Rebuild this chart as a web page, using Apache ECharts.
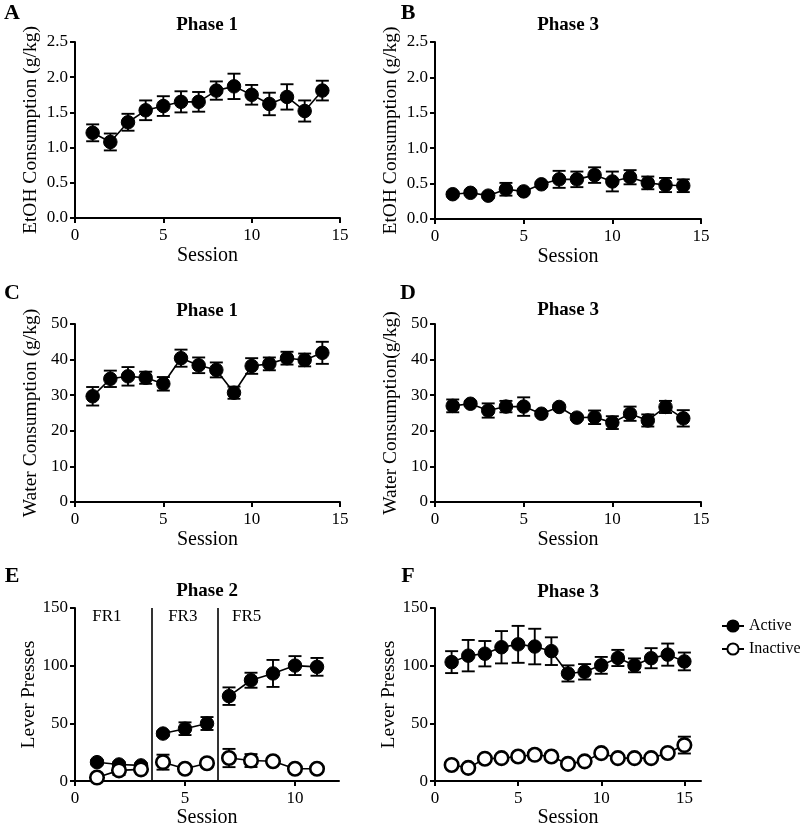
<!DOCTYPE html>
<html>
<head>
<meta charset="utf-8">
<script src="https://cdn.jsdelivr.net/npm/echarts@6/dist/echarts.min.js"></script>
<style>html,body{margin:0;padding:0;background:#fff;}#chart{width:800px;height:829px;}</style>
</head>
<body>
<div id="chart"></div>
<script>
// ---------- DATA ----------
const sessions14 = [1,2,3,4,5,6,7,8,9,10,11,12,13,14];
const sessions11 = [1,2,3,4,5,6,7,8,9,10,11];
const sessions15 = [1,2,3,4,5,6,7,8,9,10,11,12,13,14,15];

const etohP1    = [1.21,1.08,1.36,1.53,1.59,1.65,1.65,1.81,1.87,1.75,1.62,1.72,1.52,1.81];
const etohP1Err = [0.12,0.12,0.12,0.14,0.14,0.15,0.14,0.13,0.18,0.14,0.16,0.18,0.15,0.14];
const etohP3    = [0.35,0.37,0.33,0.42,0.39,0.49,0.56,0.56,0.62,0.53,0.59,0.51,0.48,0.47];
const etohP3Err = [0.03,0.03,0.03,0.09,0.03,0.03,0.12,0.11,0.11,0.14,0.10,0.09,0.10,0.09];

const waterP1    = [29.7,34.6,35.3,34.9,33.2,40.4,38.4,37.1,30.7,38.2,38.8,40.4,39.9,41.9];
const waterP1Err = [2.6,2.3,2.6,1.7,1.9,2.4,2.2,2.1,1.7,2.2,1.8,1.8,1.8,3.1];
const waterP3    = [27.0,27.6,25.7,26.8,26.8,24.8,26.7,23.7,23.8,22.3,24.8,22.9,26.7,23.5];
const waterP3Err = [1.8,0.6,2.0,1.6,2.6,0.6,0.6,0.6,1.9,1.8,2.0,1.7,1.7,2.3];

const activeP2      = [16.4,14.4,13.6,41.2,45.4,49.9,73.6,87.4,93.3,100.1,99.0];
const activeP2Err   = [2,2,2,2,5.5,5.6,7.6,6.5,11.7,8.2,7.7];
const inactiveP2    = [3.1,9.3,10.2,16.4,10.7,15.5,20.0,17.8,17.2,10.7,10.7];
const inactiveP2Err = [1.5,4,2.5,6.5,1.5,3.4,7.9,5.6,3,1.5,1.5];
const p2Blocks      = [[1,3],[4,6],[7,11]];
const p2Boundaries  = [3.5,6.5];
const p2BlockLabels = ['FR1','FR3','FR5'];
const p2LabelX      = [1.45,4.9,7.8];
const p2LabelY      = 143;

const activeP3      = [103.1,108.7,110.4,116.0,118.5,116.6,112.6,93.3,94.7,100.3,106.7,100.3,106.5,109.6,103.7];
const activeP3Err   = [9.5,13.6,11,14,16,15.4,12,7,6.7,7.3,7,6,8.7,9.6,7.7];
const inactiveP3    = [14.0,11.5,19.4,19.9,21.3,22.8,21.3,14.9,17.1,24.2,19.9,19.9,19.9,24.4,31.2];
const inactiveP3Err = [2,2,2,2,3,3.8,2,2,2,2,2,2,2,2,7.3];

const panelLetters = ['A','B','C','D','E','F'];
const panelTitles  = ['Phase 1','Phase 3','Phase 1','Phase 3','Phase 2','Phase 3'];
const yNames = ['EtOH Consumption (g/kg)','EtOH Consumption (g/kg)','Water Consumption (g/kg)','Water Consumption(g/kg)','Lever Presses','Lever Presses'];
const xName = 'Session';
const legendNames = ['Active','Inactive'];

// ---------- LAYOUT ----------
const FONT = '"Liberation Serif","Times New Roman",serif';
const grids = [
  {left:75, top:42, width:265, height:176},
  {left:435, top:42, width:266, height:177},
  {left:75, top:324, width:265, height:178},
  {left:435, top:324, width:266, height:178},
  {left:75, top:608, width:264, height:177},
  {left:435, top:608, width:266, height:178}
];
const xMax = [15,15,15,15,12,16];
const xTicks = [[0,5,10,15],[0,5,10,15],[0,5,10,15],[0,5,10,15],[0,5,10],[0,5,10,15]];
const yCfg = [
  {max:2.5, interval:0.5, dec:1},
  {max:2.5, interval:0.5, dec:1},
  {max:50, interval:10, dec:0},
  {max:50, interval:10, dec:0},
  {max:150, interval:50, dec:0},
  {max:150, interval:50, dec:0}
];
const letterPos = [[12,13],[408,13],[12,293],[408,293],[12,576],[408,576]];
const titlePos  = [[207,25],[568,25],[207,311],[568,310],[207,591],[568,592]];

const axisLine = {lineStyle:{color:'#000', width:2}};
const xAxes = grids.map((g,i)=>({
  type:'value', gridIndex:i, min:0, max:xMax[i],
  name:xName, nameLocation:'middle', nameGap: i>=4 ? 24 : 28,
  nameTextStyle:{fontFamily:FONT, fontSize:20, color:'#000'},
  axisLine:axisLine,
  axisTick:{show:true, length:5, lineStyle:{color:'#000', width:2}, customValues:xTicks[i]},
  axisLabel:{fontFamily:FONT, fontSize:17, color:'#000', margin:9, customValues:xTicks[i]},
  splitLine:{show:false}
}));
const yAxes = grids.map((g,i)=>({
  type:'value', gridIndex:i, min:0, max:yCfg[i].max, interval:yCfg[i].interval,
  name:yNames[i], nameLocation:'middle', nameGap:34,
  nameTextStyle:{fontFamily:FONT, fontSize:19.5, color:'#000'},
  axisLine:Object.assign({show:true}, axisLine),
  axisTick:{show:true, length:5, lineStyle:{color:'#000', width:2}},
  axisLabel:{fontFamily:FONT, fontSize:17, color:'#000', margin:7,
    formatter:v=>v.toFixed(yCfg[i].dec)},
  splitLine:{show:false}
}));

function renderErr(params, api){
  const x = api.value(0), lo = api.value(1), hi = api.value(2);
  const a = api.coord([x,hi]), b = api.coord([x,lo]);
  const w = 6.5;
  const st = {stroke:'#000', lineWidth:1.9};
  return {type:'group', children:[
    {type:'line', shape:{x1:a[0],y1:a[1],x2:b[0],y2:b[1]}, style:st},
    {type:'line', shape:{x1:a[0]-w,y1:a[1],x2:a[0]+w,y2:a[1]}, style:st},
    {type:'line', shape:{x1:b[0]-w,y1:b[1],x2:b[0]+w,y2:b[1]}, style:st}
  ]};
}

const filledStyle = {color:'#000', borderColor:'#000', borderWidth:1};
const openStyle = {color:'#fff', borderColor:'#000', borderWidth:2.6};

const series = [];
function addSeries(idx, xs, ys, errs, open, name, extra){
  series.push({
    type:'custom', xAxisIndex:idx, yAxisIndex:idx, renderItem:renderErr, z:2, silent:true,
    data: xs.map((x,k)=>[x, ys[k]-errs[k], ys[k]+errs[k]]), encode:{x:0, y:[1,2]}
  });
  series.push(Object.assign({
    type:'line', name:name, xAxisIndex:idx, yAxisIndex:idx, z:3,
    data: xs.map((x,k)=>[x, ys[k]]),
    symbol:'circle', symbolSize:13.5, showSymbol:true,
    lineStyle:{color:'#000', width:1.6},
    itemStyle: open ? openStyle : filledStyle,
    animation:false
  }, extra||{}));
}

addSeries(0, sessions14, etohP1, etohP1Err, false);
addSeries(1, sessions14, etohP3, etohP3Err, false);
addSeries(2, sessions14, waterP1, waterP1Err, false);
addSeries(3, sessions14, waterP3, waterP3Err, false);

p2Blocks.forEach((bk,bi)=>{
  const idxs = sessions11.map((s,k)=>k).filter(k=>sessions11[k]>=bk[0] && sessions11[k]<=bk[1]);
  const xs = idxs.map(k=>sessions11[k]);
  const extra = bi===0 ? {markLine:{silent:true, symbol:'none', animation:false,
      lineStyle:{color:'#000', width:1.6, type:'solid'}, label:{show:false},
      data:p2Boundaries.map(v=>({xAxis:v}))}} : {};
  addSeries(4, xs, idxs.map(k=>activeP2[k]), idxs.map(k=>activeP2Err[k]), false, 'Active', extra);
  addSeries(4, xs, idxs.map(k=>inactiveP2[k]), idxs.map(k=>inactiveP2Err[k]), true, 'Inactive');
});
series.push({
  type:'custom', xAxisIndex:4, yAxisIndex:4, silent:true, z:4,
  data:p2BlockLabels.map((t,k)=>[p2LabelX[k], p2LabelY, t]),
  renderItem:(params, api)=>{
    const p = api.coord([api.value(0), api.value(1)]);
    return {type:'text', x:p[0], y:p[1], style:{text:p2BlockLabels[params.dataIndex],
      fontFamily:FONT, fontSize:17, fill:'#000', align:'center', verticalAlign:'middle'}};
  }
});

addSeries(5, sessions15, activeP3, activeP3Err, false, 'Active');
addSeries(5, sessions15, inactiveP3, inactiveP3Err, true, 'Inactive');

const graphics = [];
panelLetters.forEach((L,i)=>{
  graphics.push({type:'text', x:letterPos[i][0], y:letterPos[i][1],
    style:{text:L, fontFamily:FONT, fontSize:22, fontWeight:'bold', fill:'#000', align:'center', verticalAlign:'middle'}});
  graphics.push({type:'text', x:titlePos[i][0], y:titlePos[i][1],
    style:{text:panelTitles[i], fontFamily:FONT, fontSize:19, fontWeight:'bold', fill:'#000', align:'center', verticalAlign:'middle'}});
});

const chart = echarts.init(document.getElementById('chart'), null, {renderer:'canvas'});
chart.setOption({
  animation:false,
  backgroundColor:'#fff',
  grid: grids.map(g=>Object.assign({containLabel:false}, g)),
  xAxis: xAxes,
  yAxis: yAxes,
  legend:{data:legendNames, orient:'vertical', left:716, top:613, itemWidth:22, itemHeight:14, itemGap:7,
    textStyle:{fontFamily:FONT, fontSize:16, color:'#000'}, selectedMode:false},
  graphic: graphics,
  series: series
});
</script>
</body>
</html>
